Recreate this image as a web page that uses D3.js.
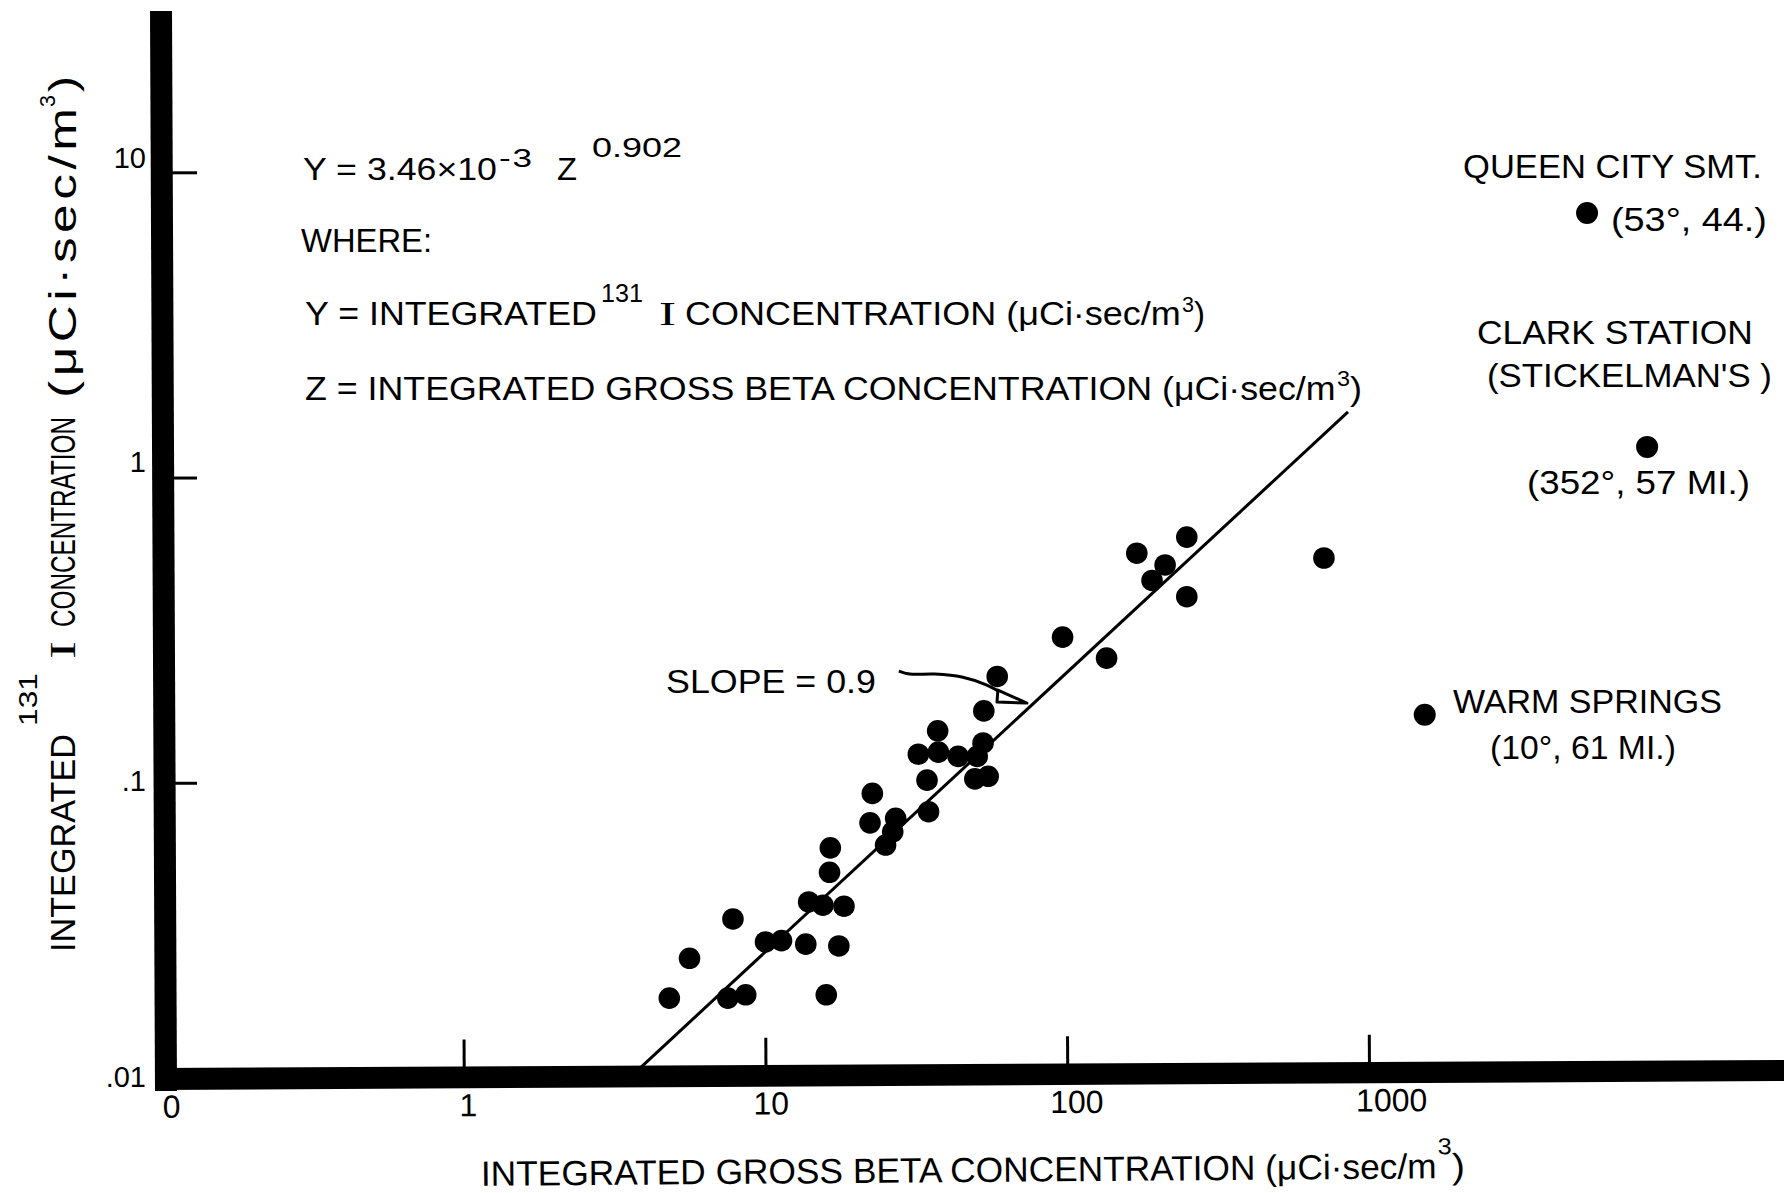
<!DOCTYPE html>
<html><head><meta charset="utf-8">
<script src="https://cdn.jsdelivr.net/npm/d3@7"></script>
<style>
html,body{margin:0;padding:0;background:#fff;}
svg{display:block;background:#fff;}
</style></head><body>
<svg id="chart" width="1784" height="1193"></svg>
<script>
// ---------------- DATA ----------------
const grossBeta = [4.8,5.6,7.8,7.5,8.6,10.0,11.3,13.6,13.9,15.5,15.9,16.3,16.4,17.5,18.2,
  22.6,22.2,25.0,26.4,27.0,34.3,34.7,32.1,37.2,37.4,43.5,49.4,54.7,52.6,50.3,52.9,58.6,
  96.5,135,170,191,211,249,249,709];
const iodine131 = [0.0197,0.0266,0.0358,0.0197,0.0202,0.0301,0.0304,0.0296,0.0407,0.0397,0.0202,0.0509,0.0612,0.0292,0.0394,
  0.0923,0.0739,0.0625,0.0691,0.0765,0.102,0.0804,0.124,0.148,0.126,0.122,0.103,0.105,0.135,0.122,0.172,0.223,
  0.300,0.256,0.565,0.460,0.517,0.638,0.407,0.545];
const stationNames = ["QUEEN CITY SMT.","CLARK STATION","WARM SPRINGS"];
const stationBeta = [5280, 8350, 1530];
const stationIodine = [7.36, 1.26, 0.167];
const fitBeta = [3.83, 852];
const fitIodine = [0.0116, 1.64];
const arrowBeta = [27.67, 30.09, 36.41, 44.75, 54.16, 60.74];
const arrowIodine = [0.2323, 0.2271, 0.2271, 0.2220, 0.2089, 0.1967];
const arrowHeadBeta = [58.9, 73.5, 58.5];
const arrowHeadIodine = [0.2013, 0.1824, 0.1838];
const xTickValues = [0.1, 1, 10, 100, 1000];
const xTickLabels = ["0", "1", "10", "100", "1000"];
const yTickValues = [0.01, 0.1, 1, 10];
const yTickLabels = [".01", ".1", "1", "10"];

// ---------------- RENDER ----------------
const svg = d3.select("#chart");
const NARROW = "'Liberation Sans Narrow','Arial Narrow','Liberation Sans',Arial,sans-serif";
const REG = "'Liberation Sans',Arial,Helvetica,sans-serif";
const SERIF = "'Liberation Serif','DejaVu Serif',serif";

const x = d3.scaleLog().domain([0.1, 1000]).range([162, 1369]);
const y = d3.scaleLog().domain([0.01, 10]).range([1088, 172.3]);

// thick hand-drawn axis bars
const x0 = x.range()[0], yb = y.range()[0];
svg.append("path")
  .attr("d", `M${x0-12},11 L${x0+10},11 L${x0+15},${yb+3} L${x0-7},${yb+3} Z`)
  .attr("fill", "#000");
svg.append("path")
  .attr("d", `M${x0-7},${yb-20} L1784,${yb-28} L1784,${yb-7} L${x0-7},${yb+2} Z`)
  .attr("fill", "#000");

// x axis ticks + labels
const xLabelDx = {0.1: 9, 1: 4, 10: 5, 100: 9, 1000: 22};
const gx = svg.append("g")
  .attr("transform", `translate(0,${yb-10}) rotate(-0.3,${x0},0)`)
  .call(d3.axisBottom(x).tickValues(xTickValues)
    .tickFormat((d,i) => xTickLabels[i]).tickSizeInner(-37).tickSizeOuter(0).tickPadding(17));
gx.select(".domain").remove();
gx.selectAll(".tick line").attr("stroke", "#000").attr("stroke-width", 3)
  .filter(d => d === 0.1).remove();
gx.selectAll(".tick text").attr("font-family", REG).attr("font-size", 32).attr("fill", "#000")
  .attr("dx", d => xLabelDx[d]);

// y axis ticks + labels
const yLabelDy = {0.01: -11, 0.1: -2, 1: -15, 10: -14};
const gy = svg.append("g")
  .attr("transform", `translate(${x0+3},0)`)
  .call(d3.axisLeft(y).tickValues(yTickValues)
    .tickFormat((d,i) => yTickLabels[i]).tickSizeInner(-32).tickSizeOuter(0).tickPadding(19));
gy.select(".domain").remove();
gy.selectAll(".tick line").attr("stroke", "#000").attr("stroke-width", 3)
  .filter(d => d === 0.01).remove();
gy.selectAll(".tick text").attr("font-family", REG).attr("font-size", 29).attr("fill", "#000")
  .attr("transform", d => `translate(0,${yLabelDy[d]})`);

// regression line
svg.append("path")
  .datum(fitBeta.map((b,i) => [b, fitIodine[i]]))
  .attr("d", d3.line().x(d => x(d[0])).y(d => y(d[1])))
  .attr("stroke", "#000").attr("stroke-width", 3).attr("fill", "none");

// data points
svg.append("g").selectAll("circle")
  .data(grossBeta.map((b,i) => [b, iodine131[i]]))
  .join("circle")
  .attr("cx", d => x(d[0])).attr("cy", d => y(d[1])).attr("r", 10.8).attr("fill", "#000");
svg.append("g").selectAll("circle")
  .data(stationBeta.map((b,i) => [b, stationIodine[i], stationNames[i]]))
  .join("circle")
  .attr("cx", d => x(d[0])).attr("cy", d => y(d[1])).attr("r", 11).attr("fill", "#000");

// slope arrow
svg.append("path")
  .datum(arrowBeta.map((b,i) => [b, arrowIodine[i]]))
  .attr("d", d3.line().curve(d3.curveCatmullRom).x(d => x(d[0])).y(d => y(d[1])))
  .attr("stroke", "#000").attr("stroke-width", 3).attr("fill", "none");
svg.append("path")
  .datum(arrowHeadBeta.map((b,i) => [b, arrowHeadIodine[i]]))
  .attr("d", d => d3.line().x(p => x(p[0])).y(p => y(p[1]))(d) + "Z")
  .attr("stroke", "#000").attr("stroke-width", 3).attr("fill", "#fff").attr("stroke-linejoin", "round");

// text helpers: width fitted by horizontal glyph scale (capped), remainder by letter-spacing
function fitText(parent, str, len, size, fam, maxScale) {
  const cap = maxScale || 1.35;
  const g = parent.append("g");
  const t = g.append("text").text(str).attr("x", 0).attr("y", 0)
    .attr("font-family", fam).attr("font-size", size).attr("fill", "#000");
  let nat = t.node().getComputedTextLength() || len;
  if (len > nat * cap && str.length > 1) {
    const ls = (len - nat * cap) / (cap * (str.length - 1));
    t.attr("letter-spacing", ls);
    nat = t.node().getComputedTextLength() - ls || len;
  }
  t.attr("transform", `scale(${len / nat},1)`);
  return g;
}
function htext(str, xa, xb, base, size, fam, parent) {
  const g = fitText(parent || svg, str, xb - xa, size, fam);
  g.attr("transform", `translate(${xa},${base})`);
  return g;
}
function vtext(str, bx, yStart, yEnd, size, fam) {
  const g = fitText(svg, str, yStart - yEnd, size, fam);
  g.attr("transform", `translate(${bx},${yStart}) rotate(-90)`);
  return g;
}

// equation block
htext("Y = 3.46×10", 303, 497, 180, 32, REG);
htext("-3", 499, 532, 167, 26, REG);
htext("Z", 557, 577, 180, 32, REG);
htext("0.902", 592, 682, 157, 28, REG);
htext("WHERE:", 301, 432, 252, 34, NARROW);
htext("Y = INTEGRATED", 305, 597, 325, 34, NARROW);
htext("131", 601, 643, 302, 26, NARROW);
htext("I", 659, 676, 325, 34, SERIF);
htext("CONCENTRATION (μCi·sec/m", 685, 1181, 325, 34, NARROW);
htext("3", 1182, 1194, 312, 22, NARROW);
htext(")", 1194, 1205, 325, 34, NARROW);
htext("Z = INTEGRATED GROSS BETA CONCENTRATION (μCi·sec/m", 305, 1336, 400, 34, NARROW);
htext("3", 1337, 1350, 386, 22, NARROW);
htext(")", 1350, 1362, 400, 34, NARROW);

// slope label
htext("SLOPE = 0.9", 666, 876, 693, 34, NARROW);

// station labels
htext("QUEEN CITY SMT.", 1463, 1762, 178, 33, REG);
htext("(53°, 44.)", 1611, 1767, 231, 33, REG);
htext("CLARK STATION", 1477, 1753, 344, 33, REG);
htext("(STICKELMAN'S )", 1487, 1772, 387, 33, REG);
htext("(352°, 57 MI.)", 1527, 1750, 494, 33, REG);
htext("WARM SPRINGS", 1453, 1722, 713, 33, REG);
htext("(10°, 61 MI.)", 1490, 1676, 759, 33, REG);

// x axis title (slightly tilted)
const gt = svg.append("g").attr("transform", "rotate(-0.45,972,1182)");
htext("INTEGRATED GROSS BETA CONCENTRATION (μCi·sec/m", 481, 1437, 1182, 35, NARROW, gt);
htext("3", 1438, 1452, 1158, 23, NARROW, gt);
htext(")", 1452, 1465, 1182, 35, NARROW, gt);

// y axis title (rotated)
vtext("INTEGRATED", 75, 952, 734, 35, NARROW);
vtext("131", 37, 726, 673, 26, NARROW);
vtext("I", 75, 659, 641, 35, SERIF);
vtext("CONCENTRATION", 75, 627, 417, 35, NARROW);
vtext("(μCi·sec/m", 76, 398, 108, 38, NARROW);
vtext("3", 55, 107, 95, 22, NARROW);
vtext(")", 76, 92, 76, 38, NARROW);
</script>
</body></html>
